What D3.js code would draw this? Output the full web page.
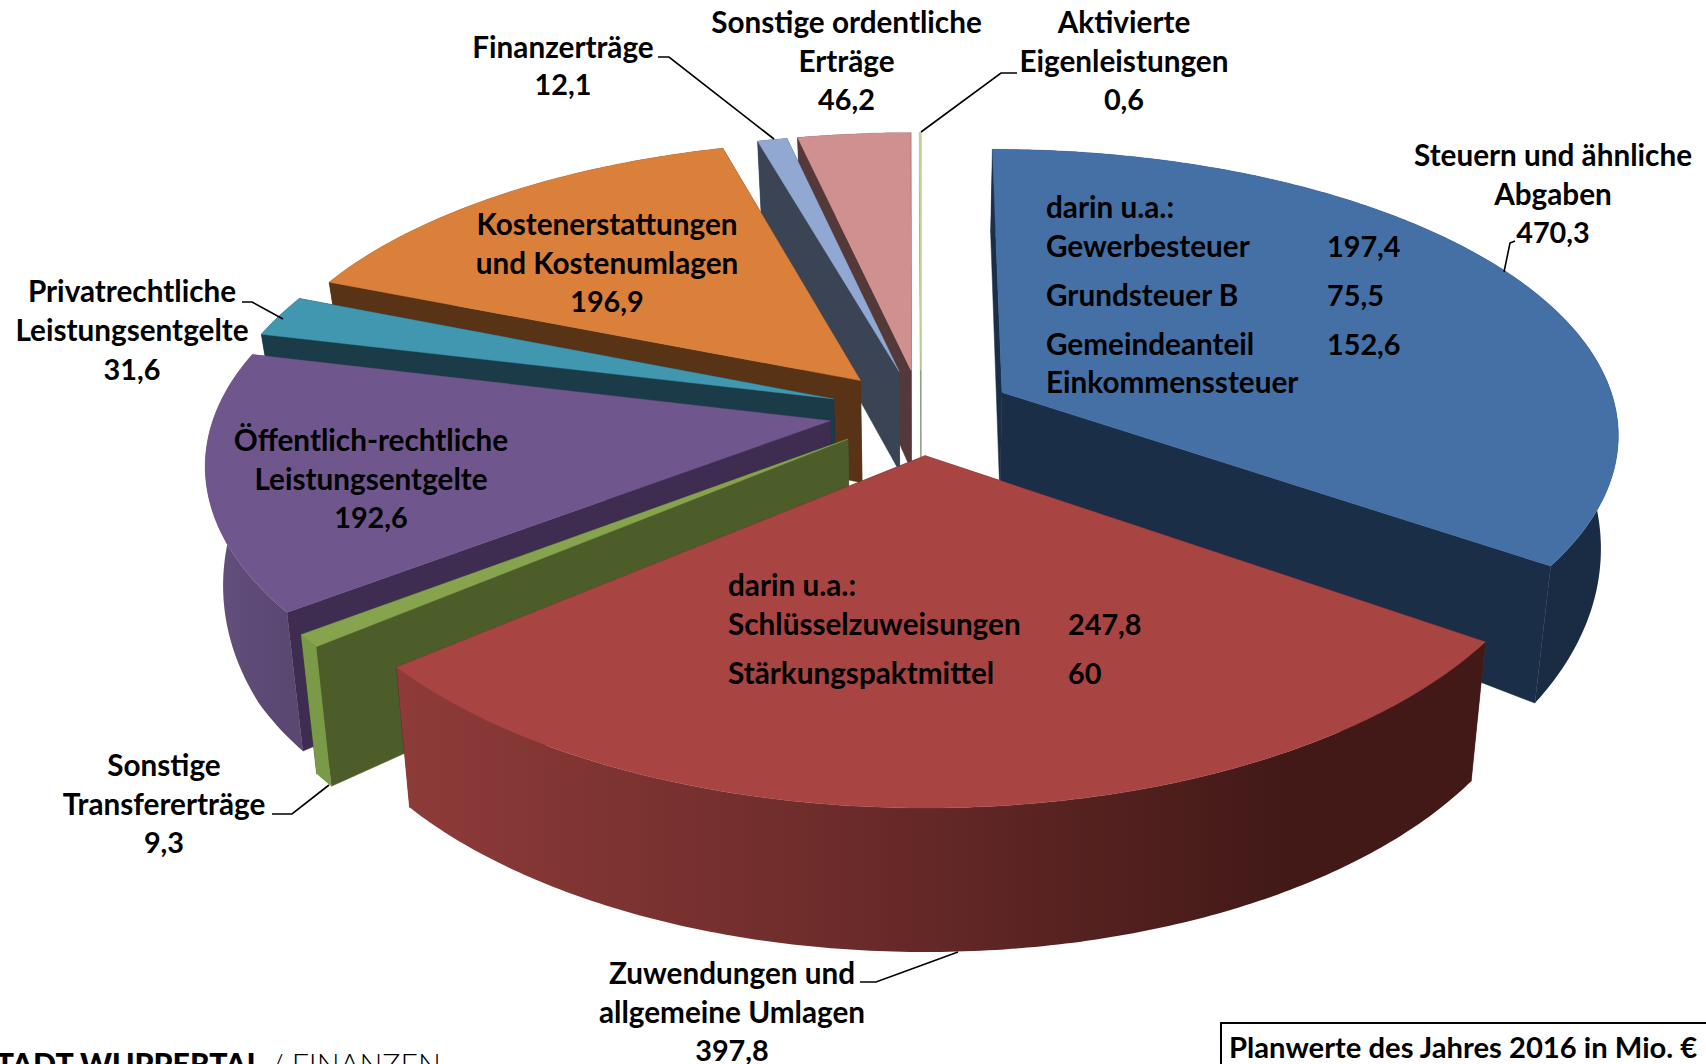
<!DOCTYPE html>
<html><head><meta charset="utf-8">
<script src="https://cdnjs.cloudflare.com/ajax/libs/d3/7.8.5/d3.min.js"></script>
<style>
html,body{margin:0;padding:0;background:#fff;overflow:hidden}
svg{display:block}
text{font-family:Lato,"Noto Sans",sans-serif;font-weight:700;fill:#000}
</style></head><body>
<svg id="c" width="1706" height="1064"></svg>
<script>
// ---- data ----
const categories = ["Steuern und ähnliche Abgaben","Zuwendungen und allgemeine Umlagen","Sonstige Transfererträge","Öffentlich-rechtliche Leistungsentgelte","Privatrechtliche Leistungsentgelte","Kostenerstattungen und Kostenumlagen","Finanzerträge","Sonstige ordentliche Erträge","Aktivierte Eigenleistungen"];
const values = [470.3,397.8,9.3,192.6,31.6,196.9,12.1,46.2,0.6];
const topColors  = ["#4470a6","#a84442","#86a44d","#6f568d","#4097af","#da803b","#90a8d2","#d09090","#c5d8a0"];
const wallColors = ["#1b2e47","#5c2423","#4d5d2a","#3e2d50","#1a3b47","#593316","#3a4454","#553838","#8a9a78"];
const rimFrom    = ["#1c3049","#8e3b39","#7a9a48","#66527f","#1a3b47","#593316","#3a4454","#553838","#8a9a78"];
const rimMid     = ["#1b2e47","#6b2b2a","#7a9a48","#5f4b78","#1a3b47","#593316","#3a4454","#553838","#8a9a78"];
const rimTo      = ["#1a2c44","#421917","#7a9a48","#5a4772","#1a3b47","#593316","#3a4454","#553838","#8a9a78"];
const drawOrder  = [8,7,6,5,4,3,2,0,1];

// ---- projection (camera parameters) ----
const cx=921, cy=412, explode=0.15, px=0.135, py=0.15, wallShrink=0.975;
const sx=d3.scaleLinear().domain([-1,1]).range([-615,615]);
const sy=d3.scaleLinear().domain([-1,1]).range([-285,285]);
const wallHeight=d3.scaleLinear().domain([-1.15,-0.15,0.5,1.15]).range([82,100,137,144]);
const project=(u,v)=>[cx+sx(u)/(1-px*v), cy+sy(v)/(1-py*v)];
const drop=(u,v)=>{const p=project(u,v);return [cx+(p[0]-cx)*wallShrink, p[1]+wallHeight(v)];};

const arcs=d3.pie().sort(null).startAngle(0).endAngle(2*Math.PI)(values);
const line=d3.line();
const svg=d3.select("#c");
const defs=svg.append("defs");

function geom(a){
  const b=(a.startAngle+a.endAngle)/2;
  const eu=explode*Math.sin(b), ev=-explode*Math.cos(b);
  const apex=[eu,ev];
  const n=Math.max(2,Math.ceil((a.endAngle-a.startAngle)*90));
  const rim=d3.range(n+1).map(i=>{
    const t=a.startAngle+(a.endAngle-a.startAngle)*i/n;
    return [eu+Math.sin(t),ev-Math.cos(t)];
  });
  return {apex,rim};
}
const P=q=>project(q[0],q[1]), D=q=>drop(q[0],q[1]);

drawOrder.forEach(i=>{
  const a=arcs[i], g=geom(a), s=svg.append("g");
  const gid="rim"+i, gr=defs.append("linearGradient").attr("id",gid).attr("x1",0).attr("x2",1).attr("y1",0).attr("y2",0);
  gr.append("stop").attr("offset","0").attr("stop-color",rimFrom[i]);
  gr.append("stop").attr("offset","0.42").attr("stop-color",rimMid[i]);
  gr.append("stop").attr("offset","0.82").attr("stop-color",rimTo[i]);
  const first=g.rim[0], last=g.rim[g.rim.length-1];
  const wall=(q)=>line([P(g.apex),P(q),D(q),D(g.apex)])+"Z";
  s.append("path").attr("d",wall(first)).attr("fill",wallColors[i]).attr("stroke",wallColors[i]).attr("stroke-width",i===8?0.6:0.5);
  s.append("path").attr("d",wall(last)).attr("fill",wallColors[i]).attr("stroke",wallColors[i]).attr("stroke-width",i===8?0.6:0.5);
  const rimPoly=g.rim.map(P).concat(g.rim.slice().reverse().map(D));
  s.append("path").attr("d",line(rimPoly)+"Z").attr("fill",`url(#${gid})`);
  s.append("path").attr("d",line([P(g.apex)].concat(g.rim.map(P)))+"Z").attr("fill",topColors[i])
    .attr("stroke",topColors[i]).attr("stroke-width",i===8?0.7:0.4);
});

// ---- leader lines ----
const leaders=[
 [[658,57],[669,57],[774,139]],
 [[1017,73],[1001,73],[921,132]],
 [[1515,241],[1510,243],[1504,272]],
 [[242,302],[252,302],[283,319]],
 [[272,814],[292,814],[329,785]],
 [[860,982],[876,982],[958,952]]
];
svg.append("g").selectAll("path").data(leaders).join("path")
  .attr("d",d=>line(d)).attr("fill","none").attr("stroke","#000").attr("stroke-width",1.6);

// ---- labels ----
const labelSize=29.7, numberSize=28.8;
const sizeOf=t=>/^[\d,]+$/.test(t)?numberSize:labelSize;
const centered=[
 [846.5,[["Sonstige ordentliche",33],["Erträge",72],["46,2",110]]],
 [1124,[["Aktivierte",33],["Eigenleistungen",72],["0,6",110]]],
 [563,[["Finanzerträge",58],["12,1",95]]],
 [1553,[["Steuern und ähnliche",166],["Abgaben",205],["470,3",243]]],
 [607,[["Kostenerstattungen",235],["und Kostenumlagen",274],["196,9",312]]],
 [132,[["Privatrechtliche",302],["Leistungsentgelte",341],["31,6",380]]],
 [371,[["Öffentlich-rechtliche",451],["Leistungsentgelte",490],["192,6",528]]],
 [164,[["Sonstige",776],["Transfererträge",815],["9,3",853]]],
 [732,[["Zuwendungen und",984],["allgemeine Umlagen",1023],["397,8",1061]]]
];
centered.forEach(([x,rows])=>rows.forEach(([t,y])=>{
  svg.append("text").attr("x",x).attr("y",y).attr("text-anchor","middle").attr("font-size",sizeOf(t)).text(t);
}));
const leftText=[
 [1046,218,"darin u.a.:"],[1046,257,"Gewerbesteuer"],[1327,257,"197,4"],
 [1046,306,"Grundsteuer B"],[1327,306,"75,5"],
 [1046,355,"Gemeindeanteil"],[1327,355,"152,6"],[1046,393,"Einkommenssteuer"],
 [728,596,"darin u.a.:"],[728,635,"Schlüsselzuweisungen"],[1068,635,"247,8"],
 [728,684,"Stärkungspaktmittel"],[1068,684,"60"]
];
svg.append("g").selectAll("text").data(leftText).join("text")
  .attr("x",d=>d[0]).attr("y",d=>d[1]).attr("font-size",d=>sizeOf(d[2])).text(d=>d[2]);

// ---- box & footer ----
svg.append("path").attr("d",line([[1221,1064],[1221,1023],[1706,1023]])).attr("fill","none").attr("stroke","#000").attr("stroke-width",2);
svg.append("text").attr("x",1229).attr("y",1058).attr("font-size",29.2).text("Planwerte des Jahres 2016 in Mio. €");
const foot=svg.append("text").attr("x",-21).attr("y",1075).attr("font-size",30.3);
foot.append("tspan").style("font-weight",900).text("STADT WUPPERTAL");
foot.append("tspan").style("font-weight",300).attr("dx",8).text("/ FINANZEN");
</script>
</body></html>
